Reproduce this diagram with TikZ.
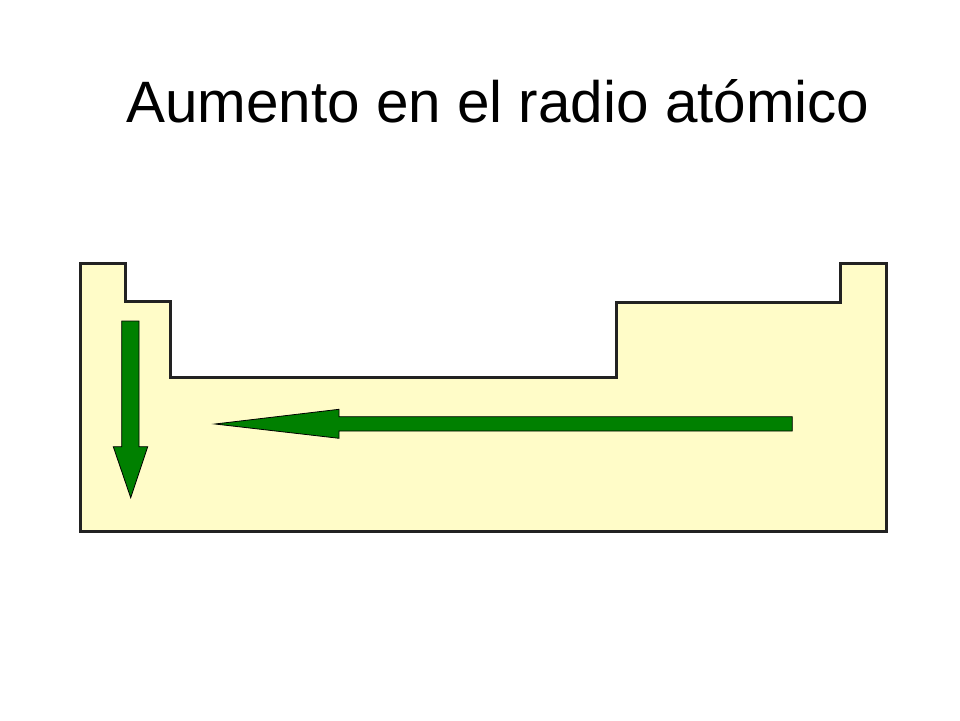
\documentclass[tikz,border=0pt]{standalone}
\usepackage{fontspec}
\setmainfont{Liberation Sans}
\definecolor{tabfill}{HTML}{FFFCC8}
\definecolor{arrowgreen}{HTML}{008000}
\definecolor{outline}{HTML}{222222}
\tikzset{
  tableoutline/.style={draw=outline, line width=3pt, fill=tabfill, line join=miter},
  greenarrow/.style={draw=black, line width=0.8pt, fill=arrowgreen, line join=miter},
  titletext/.style={font=\fontsize{58.4}{70}\selectfont, inner sep=0pt, anchor=base west}
}
\begin{document}
\begin{tikzpicture}[x=1pt,y=-1pt]
\useasboundingbox (0,0) rectangle (960,720);
\node[titletext] (title) at (126,122.3) {Aumento en el radio atómico};
\draw[tableoutline] (80,263.5) -- (125,263.5) -- (125,301.7) -- (170.7,301.7) -- (170.7,377.3)
  -- (616.7,377.3) -- (616.7,302.3) -- (840.7,302.3) -- (840.7,263.5) -- (886.5,263.5)
  -- (886.5,531.5) -- (80,531.5) -- cycle;
% vertical arrow
\draw[greenarrow] (121.7,321) -- (139,321) -- (139,446.7) -- (147.7,446.7) -- (130.7,497.7)
  -- (113.3,446.7) -- (121.7,446.7) -- cycle;
% horizontal arrow
\draw[greenarrow] (792.3,416.7) -- (339,416.7) -- (339,409.3) -- (215,424) -- (339,438.3)
  -- (339,431) -- (792.3,431) -- cycle;
\end{tikzpicture}
\end{document}
